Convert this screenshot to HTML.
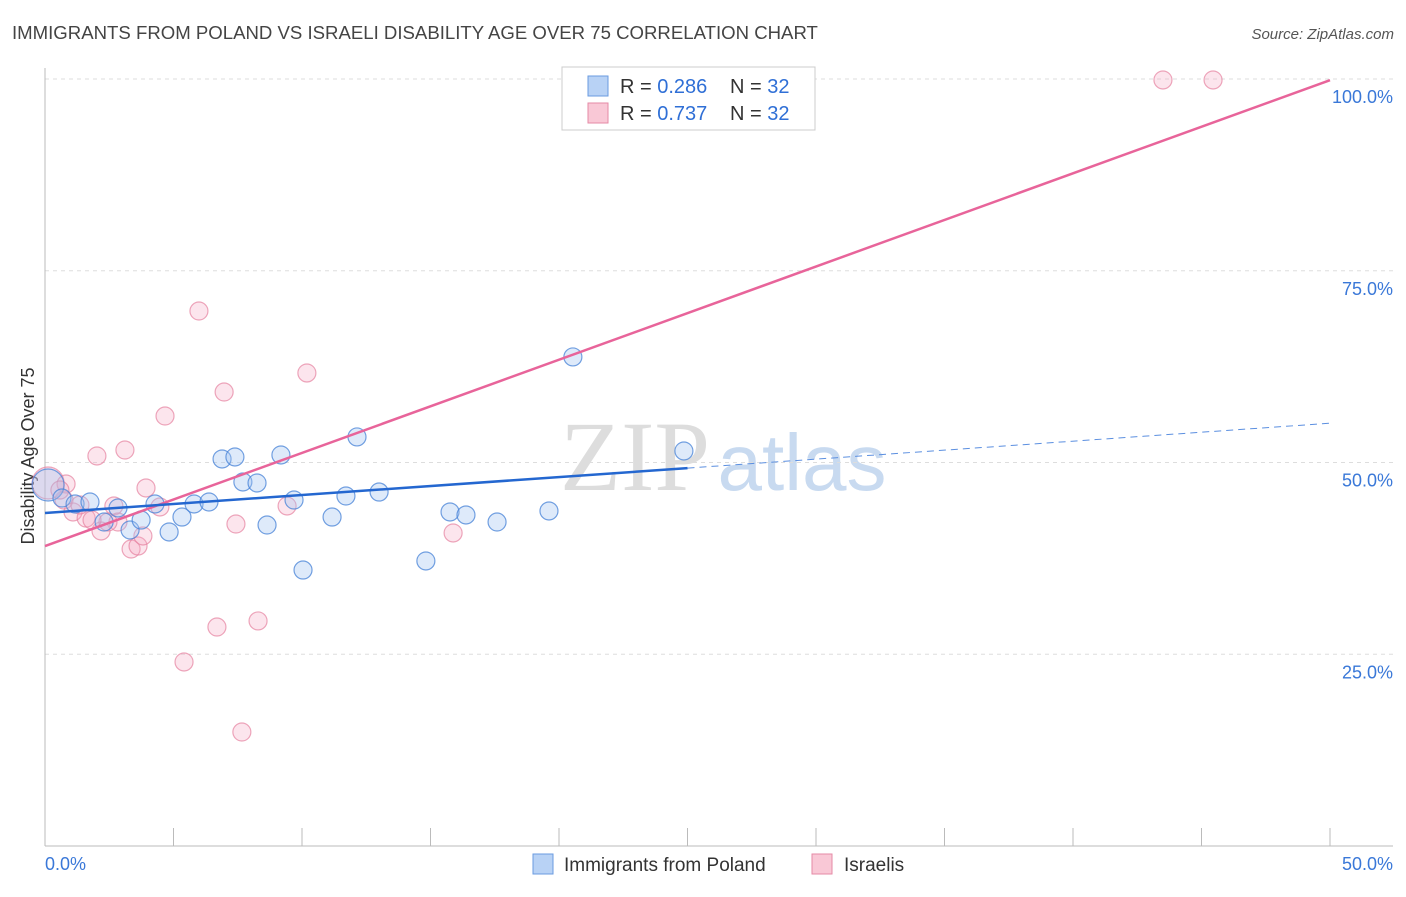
<!DOCTYPE html>
<html><head><meta charset="utf-8"><style>
body{margin:0;background:#fff;font-family:"Liberation Sans",sans-serif;}
</style></head><body>
<svg width="1406" height="892" xmlns="http://www.w3.org/2000/svg" font-family="Liberation Sans, sans-serif">
<text x="12" y="39" font-size="18.6" fill="#444">IMMIGRANTS FROM POLAND VS ISRAELI DISABILITY AGE OVER 75 CORRELATION CHART</text>
<text x="1394" y="39" font-size="15" fill="#555" font-style="italic" text-anchor="end">Source: ZipAtlas.com</text>
<g>
<text x="635" y="490" font-size="100" font-family="Liberation Serif, serif" fill="#ddd" text-anchor="middle">ZIP</text>
<text x="802" y="490" font-size="80" fill="#c8daf0" text-anchor="middle">atlas</text>
</g>
<g id="grid"></g>
<g id="axes"></g>
<text transform="translate(34,456) rotate(-90)" font-size="18" fill="#333" text-anchor="middle">Disability Age Over 75</text>
<g id="marks"></g>
<g>
<rect x="562" y="67" width="253" height="63" fill="#fff" stroke="#ccc"/>
<rect x="588" y="76" width="20" height="20" fill="#b8d2f5" stroke="#6a9be0"/>
<rect x="588" y="103" width="20" height="20" fill="#f9c8d6" stroke="#e58aa6"/>
<text x="620" y="93" font-size="20" fill="#333">R = <tspan fill="#2f6fd6">0.286</tspan><tspan x="730">N = </tspan><tspan fill="#2f6fd6">32</tspan></text>
<text x="620" y="120" font-size="20" fill="#333">R = <tspan fill="#2f6fd6">0.737</tspan><tspan x="730">N = </tspan><tspan fill="#2f6fd6">32</tspan></text>
</g>
<g>
<rect x="533" y="854" width="20" height="20" fill="#b8d2f5" stroke="#6a9be0"/>
<text x="564" y="871" font-size="19" fill="#333">Immigrants from Poland</text>
<rect x="812" y="854" width="20" height="20" fill="#f9c8d6" stroke="#e58aa6"/>
<text x="844" y="871" font-size="19" fill="#333">Israelis</text>
</g>
</svg>
<script>
const yTicks=[25,50,75,100];
const yTickLabels=["25.0%","50.0%","75.0%","100.0%"];
const xTickLabels=["0.0%","50.0%"];
const polandX=[0.12,0.66,1.17,1.75,2.30,2.84,3.31,3.74,4.28,4.83,5.33,5.80,6.38,6.89,7.39,7.70,8.25,8.64,9.18,9.69,10.04,11.17,11.71,12.14,13.00,14.82,15.76,16.38,17.59,19.61,20.54,24.86];
const polandY=[47.07,45.37,44.59,44.85,42.24,44.07,41.20,42.50,44.59,40.94,42.89,44.59,44.85,50.46,50.72,47.46,47.33,41.85,50.98,45.11,35.98,42.89,45.63,53.33,46.15,37.16,43.55,43.16,42.24,43.68,63.76,51.50];
const israelX=[0.12,0.74,0.82,1.09,1.60,2.02,2.18,2.68,2.84,3.11,3.35,3.62,3.81,3.93,4.47,4.67,5.41,5.99,6.69,6.97,7.43,7.66,8.29,9.42,10.19,15.88,43.50,45.45,0.58,2.45,1.36,1.83];
const israelY=[47.33,45.11,47.20,43.55,42.76,50.85,41.07,44.33,42.24,51.63,38.72,39.11,40.42,46.68,44.20,56.06,23.99,69.75,28.55,59.19,41.98,14.86,29.34,44.33,61.67,40.81,99.87,99.87,46.41,42.24,44.46,42.50];
const polandTrend=[43.42,0.234]; // intercept, slope
const israelTrend=[39.1,1.215];
const polandSolidEnd=25;
const NS="http://www.w3.org/2000/svg";
const X=v=>45+v/50*1285, Y=v=>846-v/100*767;
function el(t,a,p){const e=document.createElementNS(NS,t);for(const k in a)e.setAttribute(k,a[k]);document.getElementById(p).appendChild(e);return e;}
yTicks.forEach((t,i)=>{
 const g=el('line',{x1:45,x2:1393,y1:Y(t),y2:Y(t),stroke:'#ddd','stroke-dasharray':'4,4'},'grid');
 
 
 const l=el('text',{x:1393,y:Y(t)+24,'font-size':18,fill:'#3a78d8','text-anchor':'end'},'axes');l.textContent=yTickLabels[i];
 
 
});
el('line',{x1:45,x2:45,y1:68,y2:846,stroke:'#bbb'},'axes');
el('line',{x1:45,x2:1393,y1:846,y2:846,stroke:'#bbb'},'axes');
for(let i=0;i<=10;i++){const t=el('line',{x1:X(i*5),x2:X(i*5),y1:828,y2:846,stroke:'#bbb'},'axes');
 
 }
[[0,'start',45],[1,'end',1393]].forEach(([i,a,x])=>{const l=el('text',{x:x,y:870,'font-size':18,fill:'#3a78d8','text-anchor':a},'axes');l.textContent=xTickLabels[i];
 
 });
function pts(xs,ys,fill,stroke,name){xs.forEach((x,i)=>{const c=el('circle',{cx:X(x),cy:Y(ys[i]),r:i==0?16:9,fill:fill,stroke:stroke,'stroke-width':1.2},'marks');
 
 });}
pts(israelX,israelY,'rgba(246,170,195,0.3)','rgba(230,130,160,0.7)','point-israelis');
pts(polandX,polandY,'rgba(160,195,240,0.35)','rgba(70,130,215,0.75)','point-poland');
const f=(tr,x)=>tr[0]+tr[1]*x;
let l1=el('line',{x1:X(0),y1:Y(f(israelTrend,0)),x2:X(50),y2:Y(f(israelTrend,50)),stroke:'#e8649a','stroke-width':2.5},'marks');


let l2=el('line',{x1:X(0),y1:Y(f(polandTrend,0)),x2:X(polandSolidEnd),y2:Y(f(polandTrend,polandSolidEnd)),stroke:'#2467d0','stroke-width':2.5},'marks');


let l3=el('line',{x1:X(polandSolidEnd),y1:Y(f(polandTrend,polandSolidEnd)),x2:X(50),y2:Y(f(polandTrend,50)),stroke:'#5b8fe0','stroke-width':1,'stroke-dasharray':'7,5'},'marks');


</script>
</body></html>
